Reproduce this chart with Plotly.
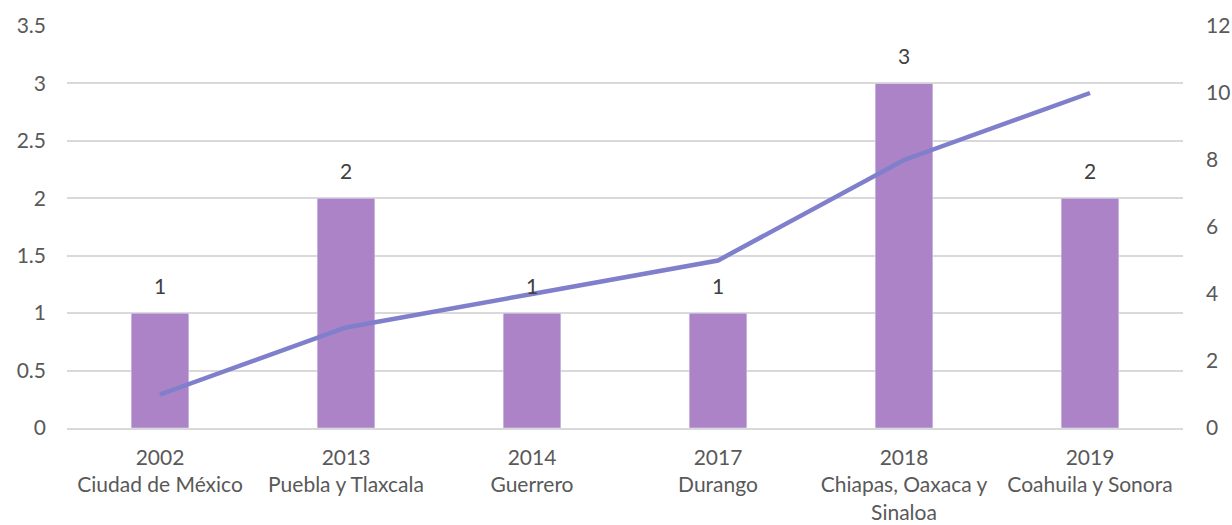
import plotly.graph_objects as go

years = ["2002", "2013", "2014", "2017", "2018", "2019"]
states = ["Ciudad de México", "Puebla y Tlaxcala", "Guerrero", "Durango",
          "Chiapas, Oaxaca y<br>Sinaloa", "Coahuila y Sonora"]
bar_values = [1, 2, 1, 1, 3, 2]
line_values = [1, 3, 4, 5, 8, 10]

cats = [f"{y}<br>{s}" for y, s in zip(years, states)]

FONT = "Lato, 'Open Sans', sans-serif"
TXT = "#595959"
FS = 21

fig = go.Figure()
fig.add_trace(go.Bar(
    x=cats, y=bar_values, marker_color="#AB83C6", width=0.31,
    showlegend=False,
))
fig.add_trace(go.Scatter(
    x=cats, y=line_values, yaxis="y2", mode="lines",
    line=dict(color="#7F7FCC", width=4.5), showlegend=False,
))
for c, v in zip(cats, bar_values):
    fig.add_annotation(x=c, y=v, xref="x", yref="y", text=str(v),
                       showarrow=False, yshift=28, yanchor="middle",
                       font=dict(size=FS, color="#404040", family=FONT))

fig.update_layout(
    width=1232, height=525,
    margin=dict(l=67, r=49, t=26, b=97),
    paper_bgcolor="white", plot_bgcolor="white",
    font=dict(family=FONT, size=FS, color=TXT),
    xaxis=dict(type="category", showgrid=False, showline=True,
               linecolor="#D9D9D9", linewidth=1.5, ticks="",
               ticklabelstandoff=10, automargin=False,
               tickfont=dict(size=FS, color=TXT)),
    yaxis=dict(range=[0, 3.5], dtick=0.5, showgrid=True, gridcolor="#D9D9D9",
               gridwidth=1.5, zeroline=False, ticks="", ticklabelstandoff=20,
               automargin=False, tickfont=dict(size=FS, color=TXT)),
    yaxis2=dict(range=[0, 12], dtick=2, overlaying="y", side="right",
                showgrid=False, zeroline=False, ticks="", ticklabelstandoff=22,
                automargin=False, tickfont=dict(size=FS, color=TXT)),
)

fig.write_html("out.html")
